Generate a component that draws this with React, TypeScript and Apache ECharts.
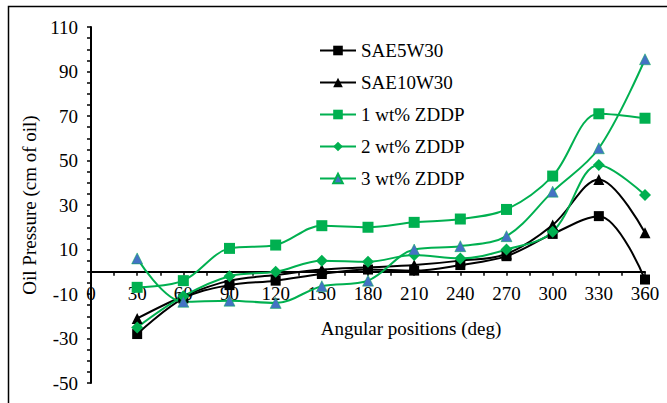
import React, { useEffect, useRef } from "react";
import * as echarts from "echarts";

const angles = [30, 60, 90, 120, 150, 180, 210, 240, 270, 300, 330, 360];
const sae5w30 = [-28, -12, -6, -4, -1, 1, 0.5, 3, 7, 17, 25, -3.5];
const sae10w30 = [-21, -11, -4, -1.5, 1, 2, 3, 5, 8, 21, 41.5, 17.5];
const zddp1 = [-7, -4, 10.5, 12, 20.7, 20, 22.2, 23.7, 28, 43, 71, 69];
const zddp2 = [-25, -11, -2, 0, 5, 4.5, 7.5, 6, 10, 18, 48, 34.5];
const zddp3 = [6, -13.5, -13, -14, -6.5, -4, 10, 11.5, 16, 36, 55.5, 95.5];
const seriesNames = ["SAE5W30", "SAE10W30", "1 wt% ZDDP", "2 wt% ZDDP", "3 wt% ZDDP"];

const FONT = "'Liberation Serif', 'Times New Roman', serif";
const GREEN = "#00B050";
const BLUE = "#4472C4";
const FS = 19;

const GRID_TOP = 27;
const GRID_BOTTOM = 20;
const Y_MIN = -50;
const Y_MAX = 110;

export default function App() {
  const ref = useRef<HTMLDivElement>(null);
  useEffect(() => {
    if (!ref.current) return;
    const chart = echarts.init(ref.current, null, { renderer: "svg" });
    const pts = (v: number[]) => angles.map((a, i) => [a, v[i]]);
    const mk = (name: string, data: number[], symbol: string, size: number, lineColor: string, symColor: string) => ({
      name,
      type: "line",
      data: pts(data),
      smooth: 0.35,
      symbol,
      symbolSize: size,
      lineStyle: { color: lineColor, width: 2 },
      itemStyle: { color: symColor, borderColor: symColor === BLUE ? GREEN : symColor, borderWidth: symColor === BLUE ? 0.5 : 0 },
      z: 3,
    });
    const plotH = 403 - GRID_TOP - GRID_BOTTOM;
    const zeroOffset = -(plotH * (0 - Y_MIN)) / (Y_MAX - Y_MIN);
    chart.setOption({
      animation: false,
      textStyle: { fontFamily: FONT },
      graphic: [
        {
          type: "rect",
          shape: { x: 8.5, y: 6.5, width: 680, height: 420 },
          style: { fill: "none", stroke: "#000", lineWidth: 1.5 },
          silent: true,
        },
      ],
      grid: { left: 91, right: 22, top: GRID_TOP, bottom: GRID_BOTTOM, outerBoundsMode: "none", containLabel: false },
      legend: {
        orient: "vertical",
        left: 314,
        top: 36,
        itemWidth: 36,
        itemHeight: 12,
        itemGap: 13,
        data: seriesNames,
        textStyle: { fontFamily: FONT, fontSize: FS, color: "#000" },
      },
      xAxis: {
        type: "value",
        min: 0,
        max: 360,
        interval: 30,
        offset: zeroOffset,
        name: "Angular positions (deg)",
        nameLocation: "middle",
        nameGap: 47,
        nameTextStyle: { fontFamily: FONT, fontSize: FS, color: "#000", padding: [0, 0, 0, 86] },
        axisLine: { onZero: false, lineStyle: { color: "#000", width: 2 } },
        axisTick: { show: true, length: 4, lineStyle: { color: "#000", width: 1.5 } },
        minorTick: { show: true, splitNumber: 2, length: 4, lineStyle: { color: "#000", width: 1.5 } },
        axisLabel: { fontFamily: FONT, fontSize: FS, color: "#000", margin: 12 },
        splitLine: { show: false },
      },
      yAxis: {
        type: "value",
        min: Y_MIN,
        max: Y_MAX,
        interval: 20,
        name: "Oil Pressure (cm of oil)",
        nameLocation: "middle",
        nameGap: 44,
        nameTextStyle: { fontFamily: FONT, fontSize: FS, color: "#000" },
        axisLine: { show: true, onZero: false, lineStyle: { color: "#000", width: 2 } },
        axisTick: { show: true, length: 4, lineStyle: { color: "#000", width: 1.5 } },
        minorTick: { show: true, splitNumber: 4, length: 4, lineStyle: { color: "#000", width: 1.5 } },
        axisLabel: { fontFamily: FONT, fontSize: FS, color: "#000", margin: 13 },
        splitLine: { show: false },
      },
      series: [
        mk(seriesNames[0], sae5w30, "rect", 10, "#000", "#000"),
        mk(seriesNames[1], sae10w30, "triangle", 11, "#000", "#000"),
        mk(seriesNames[2], zddp1, "rect", 11, GREEN, GREEN),
        mk(seriesNames[3], zddp2, "diamond", 12, GREEN, GREEN),
        mk(seriesNames[4], zddp3, "triangle", 11, GREEN, BLUE),
      ],
    });
    return () => chart.dispose();
  }, []);
  return (
    <div
      ref={ref}
      style={{ position: "absolute", left: 0, top: 0, width: 667, height: 403, background: "#fff" }}
    />
  );
}
